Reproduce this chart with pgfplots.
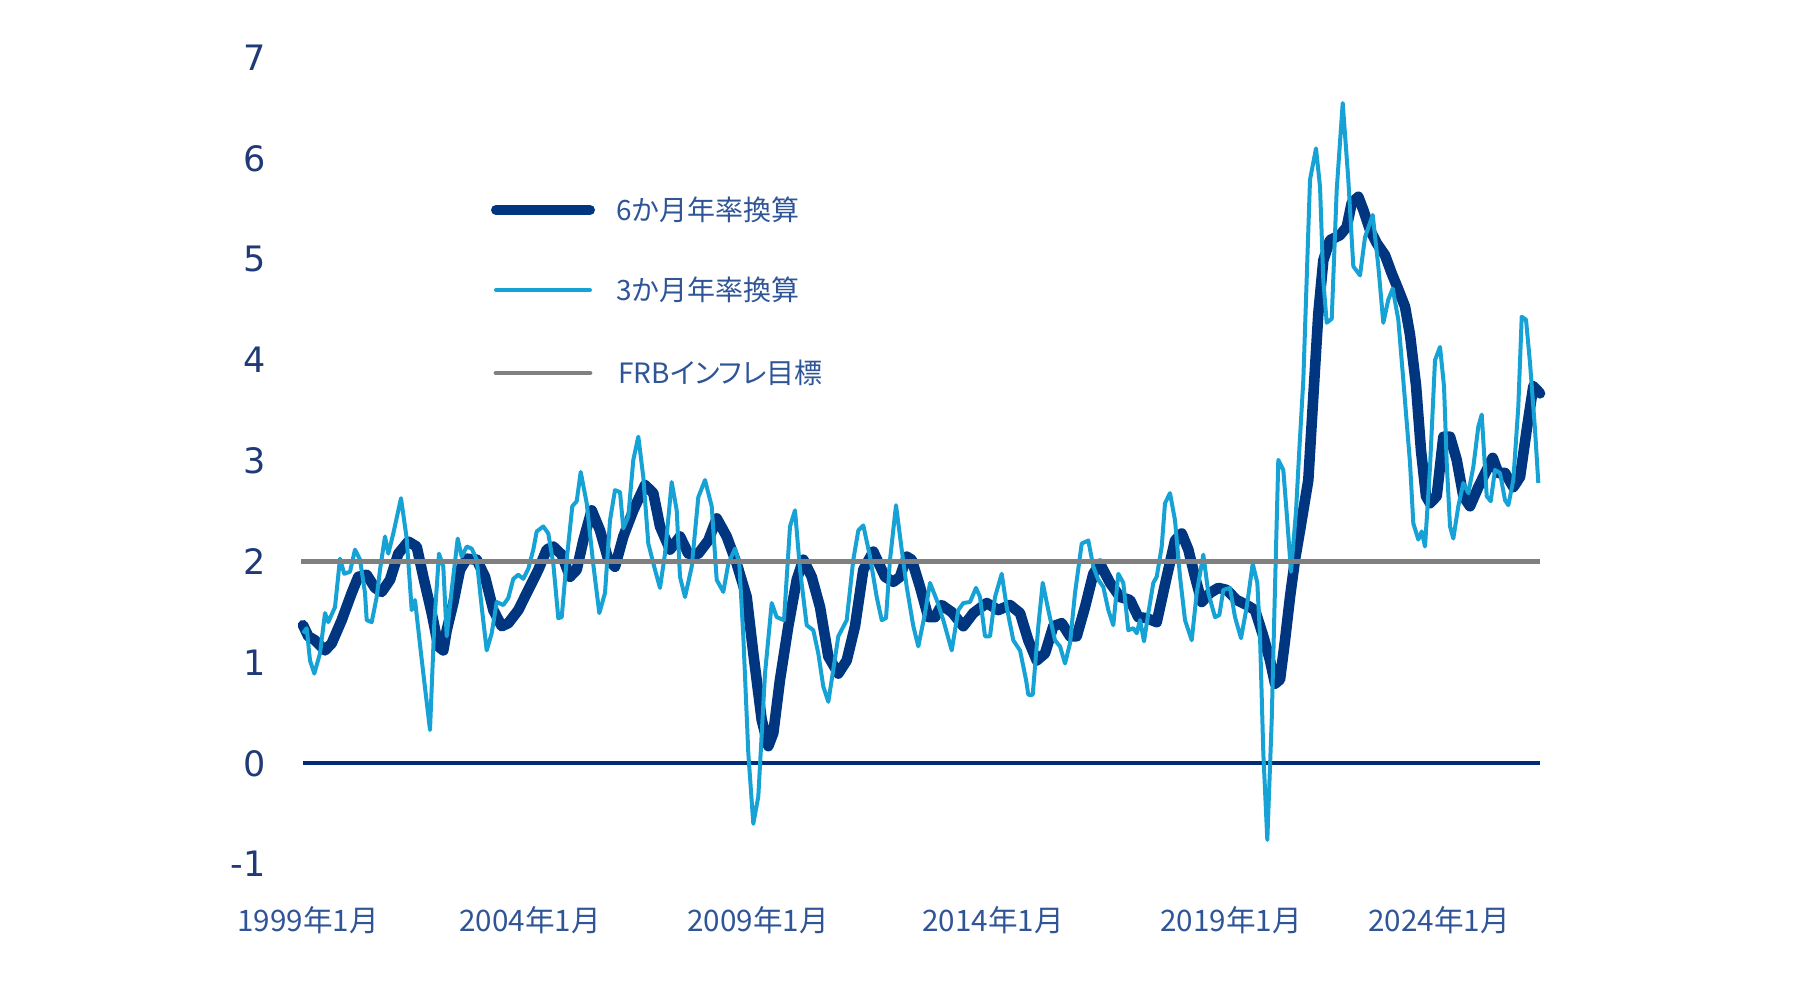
\documentclass[border=0pt]{standalone}
\usepackage{pgfplots}
\pgfplotsset{compat=1.18}
\usepackage{fontspec}
\setmainfont{DejaVu Sans}
\newfontfamily\cjk{Noto Sans CJK JP}
\newfontfamily\cjkp[RawFeature=+palt]{Noto Sans CJK JP}
\newfontfamily\yfont{DejaVu Sans}
\definecolor{navy}{HTML}{003580}
\definecolor{lblue}{HTML}{17A2D6}
\definecolor{tgray}{HTML}{808080}
\definecolor{zeroc}{HTML}{002C77}
\definecolor{ylab}{HTML}{1F3A76}
\definecolor{xlab}{HTML}{2F5597}
\begin{document}
\begin{tikzpicture}
\useasboundingbox (0,0) rectangle (903.5pt,497pt);
\begin{axis}[
  at={(151.5pt,64.95pt)}, anchor=south west,
  scale only axis, width=618.5pt, height=403.2pt,
  xmin=303, xmax=1540, ymin=-1, ymax=7,
  enlargelimits=false, clip=false,
  axis line style={draw=none}, major tick length=0pt,
  xtick={308,530,758,993,1231,1439},
  xticklabels={1999年1月,2004年1月,2009年1月,2014年1月,2019年1月,2024年1月},
  xticklabel style={font=\cjk\fontsize{14.8}{17}\selectfont, text=xlab, anchor=north, inner sep=0pt, yshift=-21pt},
  ytick={-1,0,1,2,3,4,5,6,7},
  yticklabels={-1,0,1,2,3,4,5,6,7},
  yticklabel style={font=\yfont\fontsize{17.5}{20}\selectfont, text=ylab, anchor=east, inner sep=0pt, xshift=-18.5pt},
]
\addplot[zeroc, line width=2pt] coordinates {(303,0) (1540,0)};
\addplot[navy, line width=5.3pt, line join=round, line cap=round] coordinates {
(303,1.37)(308.3,1.26)(315,1.22)(325,1.12)(331.7,1.19)(341.7,1.42)(351.7,1.69)(358.3,1.85)(366.7,1.87)(375,1.74)(381.7,1.70)(390,1.82)(398.3,2.08)(408.3,2.20)(416.7,2.15)(423.3,1.85)(431.7,1.49)(438.3,1.16)(443.3,1.12)(446.7,1.32)(453.3,1.59)(460,1.92)(466.7,2.03)(476.7,2.02)(485,1.85)(493.3,1.52)(501.7,1.36)(508.3,1.39)(518.3,1.52)(528.3,1.72)(538.3,1.92)(546.7,2.12)(553.3,2.15)(561.7,2.07)(570,1.85)(576.7,1.92)(583.3,2.21)(591.7,2.51)(600,2.31)(608.3,2.02)(615,1.95)(623.3,2.25)(633.3,2.51)(645,2.76)(653.3,2.68)(660,2.35)(670,2.12)(680,2.25)(688.3,2.08)(698.3,2.08)(708.3,2.21)(716.7,2.43)(726.7,2.25)(736.7,1.98)(746.7,1.65)(753.3,1.09)(761.7,0.43)(768.3,0.17)(773.3,0.30)(780,0.83)(788.3,1.36)(796.7,1.82)(803.3,2.02)(811.7,1.85)(820,1.55)(828.3,1.06)(838.3,0.89)(846.7,1.02)(855,1.36)(863.3,1.92)(873.3,2.10)(885,1.85)(893.3,1.80)(900,1.85)(906.7,2.05)(911.7,2.02)(920,1.75)(928.3,1.45)(935,1.45)(941.7,1.57)(951.7,1.50)(963.3,1.36)(973.3,1.49)(986.7,1.59)(998.3,1.52)(1010,1.57)(1020,1.49)(1028.3,1.22)(1036.7,1.02)(1045,1.09)(1053.3,1.36)(1061.7,1.39)(1070,1.26)(1076.7,1.26)(1085,1.55)(1093.3,1.88)(1100,1.98)(1110,1.79)(1120,1.65)(1130,1.62)(1138.3,1.45)(1146.7,1.44)(1156.7,1.40)(1166.7,1.85)(1175,2.21)(1181.7,2.28)(1188.3,2.12)(1195,1.85)(1201.7,1.60)(1210,1.69)(1218.3,1.74)(1226.7,1.72)(1236.7,1.62)(1246.7,1.57)(1255,1.52)(1263.3,1.26)(1270,1.02)(1275,0.79)(1280,0.83)(1285,1.22)(1290,1.65)(1295,2.02)(1300,2.31)(1308.3,2.81)(1313.3,3.64)(1318.3,4.46)(1323.3,4.99)(1330,5.19)(1340,5.24)(1346.7,5.32)(1351.7,5.56)(1358.3,5.62)(1363.3,5.49)(1370,5.29)(1376.7,5.16)(1385,5.04)(1391.7,4.86)(1398.3,4.70)(1405,4.53)(1410,4.25)(1416,3.75)(1421,3.10)(1426,2.65)(1430,2.58)(1436.7,2.65)(1443.3,3.24)(1450,3.24)(1456.7,3.01)(1463.3,2.65)(1470,2.55)(1478.3,2.74)(1486.7,2.91)(1492.7,3.03)(1498.3,2.88)(1505,2.88)(1513.3,2.74)(1520,2.84)(1526.7,3.31)(1533.3,3.74)(1540,3.67)};
\addplot[lblue, line width=2pt, line join=round] coordinates {
(303,1.29)(306.7,1.34)(310,1.02)(314.3,0.89)(320,1.09)(325,1.49)(328.3,1.40)(335,1.55)(340,2.03)(344.3,1.88)(350,1.90)(355,2.12)(360,2.02)(365,1.69)(366.7,1.42)(371.7,1.40)(376.7,1.65)(380,1.92)(385,2.25)(388.3,2.08)(393.3,2.28)(401,2.63)(406.7,2.23)(411.7,1.52)(415,1.62)(421,1.09)(425.7,0.69)(430,0.33)(434.3,1.39)(439,2.08)(443.3,1.95)(446.7,1.26)(451.7,1.72)(457.7,2.23)(461.7,2.05)(466.7,2.15)(471.7,2.13)(476.7,2.02)(481.7,1.55)(486.7,1.12)(491.7,1.29)(496.7,1.60)(503.3,1.57)(508.3,1.64)(513.3,1.83)(518.3,1.87)(523.3,1.83)(528.3,1.93)(533.3,2.12)(536.7,2.30)(543.3,2.35)(548.3,2.28)(553.3,1.98)(558.3,1.44)(561.7,1.45)(566.7,2.02)(572.3,2.55)(576.7,2.60)(580.7,2.89)(586.7,2.58)(593.3,1.97)(599.3,1.49)(605,1.69)(610,2.41)(615,2.71)(620,2.69)(623.3,2.33)(628.3,2.45)(633.3,3.01)(638.3,3.24)(643.3,2.84)(648.3,2.18)(655,1.92)(660,1.74)(665,2.08)(671.7,2.79)(676.7,2.51)(680,1.85)(685,1.65)(691.7,1.95)(698.3,2.64)(705,2.81)(711.7,2.55)(716.7,1.82)(723.3,1.70)(728.3,1.98)(735,2.13)(739.3,1.98)(743.3,1.26)(748.3,0.10)(753.3,-0.60)(758.3,-0.33)(765,0.89)(771.7,1.59)(776.7,1.45)(784,1.42)(790,2.35)(795,2.51)(800,1.92)(806.7,1.37)(813.3,1.32)(818.3,1.09)(823.3,0.76)(828.3,0.61)(833.3,0.93)(838.3,1.26)(846.7,1.42)(853.3,2.02)(858.3,2.31)(863.3,2.36)(870,2.05)(876.7,1.65)(881.7,1.42)(886,1.44)(890,2.02)(896,2.56)(901.7,2.12)(906.7,1.75)(913.3,1.36)(918.3,1.16)(925,1.49)(930,1.79)(936.7,1.62)(943.3,1.42)(951.7,1.12)(958.3,1.52)(963.3,1.59)(970,1.60)(976,1.74)(980,1.65)(985,1.26)(990,1.26)(995,1.65)(1001.7,1.88)(1006.7,1.55)(1013.3,1.22)(1020,1.12)(1026,0.83)(1028.3,0.68)(1032.7,0.68)(1038.3,1.36)(1042.7,1.79)(1048.3,1.52)(1055,1.22)(1060,1.16)(1065,0.99)(1070,1.19)(1075,1.69)(1081.7,2.18)(1088.3,2.21)(1093.3,1.95)(1098.3,1.82)(1103.3,1.75)(1108.3,1.52)(1113.3,1.37)(1118.3,1.88)(1123.3,1.79)(1128.3,1.32)(1133.3,1.34)(1136.7,1.29)(1140,1.42)(1144,1.21)(1148.3,1.49)(1153.3,1.79)(1156.7,1.85)(1161.7,2.15)(1165,2.58)(1170,2.68)(1175,2.41)(1180,1.85)(1185,1.42)(1191.7,1.22)(1196.7,1.69)(1203.3,2.07)(1208.3,1.69)(1215,1.45)(1219.3,1.47)(1223.3,1.72)(1230,1.74)(1235,1.45)(1241,1.24)(1246.7,1.55)(1252.7,1.98)(1257.3,1.79)(1260,1.26)(1263.3,0.10)(1267.3,-0.76)(1271.7,0.43)(1275,1.75)(1278.3,3.01)(1283.3,2.91)(1286.7,2.48)(1291,1.90)(1296,2.50)(1299.3,3.11)(1303.3,3.80)(1310,5.79)(1316,6.10)(1320,5.72)(1323.3,4.79)(1326.7,4.37)(1331.7,4.41)(1336.7,5.69)(1342.7,6.55)(1348.3,5.79)(1353.3,4.93)(1360,4.84)(1365,5.22)(1372.7,5.44)(1378.3,4.93)(1383.3,4.37)(1388.3,4.60)(1392.7,4.71)(1398.3,4.40)(1403.3,3.80)(1410,2.98)(1413.3,2.38)(1418.3,2.22)(1421.7,2.30)(1425,2.15)(1430,2.94)(1435,4.00)(1440,4.13)(1444,3.74)(1446.7,2.98)(1450,2.35)(1453.3,2.23)(1458.3,2.55)(1463.3,2.78)(1468.3,2.68)(1473.3,2.94)(1478.3,3.34)(1481.7,3.46)(1486.7,2.65)(1490.7,2.60)(1495,2.91)(1500,2.88)(1505,2.61)(1508.3,2.56)(1513.3,2.81)(1518.3,3.54)(1521.7,4.43)(1526,4.40)(1530,3.97)(1535,3.31)(1538.3,2.78)};
\addplot[tgray, line width=2.4pt] coordinates {(301,2) (1540,2)};
\end{axis}
% legend
\draw[navy, line width=5pt, line cap=round] (248pt,392pt) -- (295pt,392pt);
\draw[lblue, line width=2pt, line cap=round] (248pt,352pt) -- (295pt,352pt);
\draw[tgray, line width=2.4pt, line cap=round] (248pt,310.5pt) -- (295pt,310.5pt);
\node[anchor=west, inner sep=0pt, text=xlab, font=\cjkp\fontsize{14}{17}\selectfont] at (308pt,392pt) {6か月年率換算};
\node[anchor=west, inner sep=0pt, text=xlab, font=\cjkp\fontsize{14}{17}\selectfont] at (308pt,352pt) {3か月年率換算};
\node[anchor=west, inner sep=0pt, text=xlab, font=\cjkp\fontsize{14}{17}\selectfont] at (309pt,310.5pt) {FRBインフレ目標};
\end{tikzpicture}
\end{document}
